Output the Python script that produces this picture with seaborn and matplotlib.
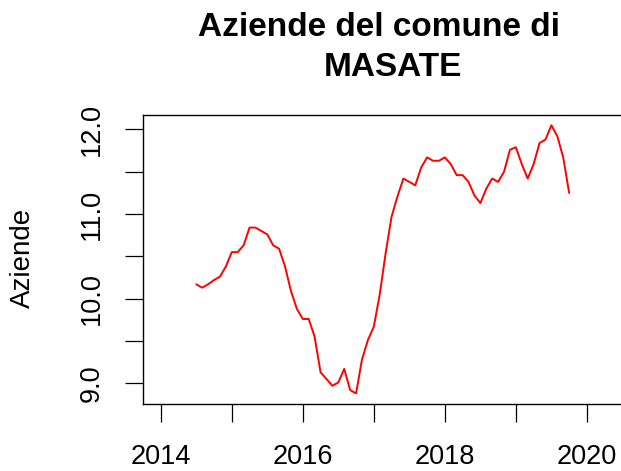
import numpy as np
import pandas as pd
import matplotlib
matplotlib.use("Agg")
import matplotlib.pyplot as plt
import seaborn as sns

# ---- data ----
title_line1 = "Aziende del comune di"
title_line2 = "MASATE"
y_label = "Aziende"
start_month = "2014-07"
aziende = [10.17, 10.13, 10.17, 10.22, 10.26, 10.38, 10.55, 10.55, 10.63, 10.84,
           10.84, 10.80, 10.76, 10.63, 10.59, 10.38, 10.09, 9.88, 9.76, 9.76,
           9.55, 9.13, 9.05, 8.97, 9.01, 9.17, 8.92, 8.88, 9.28, 9.51,
           9.67, 10.05, 10.54, 10.97, 11.21, 11.42, 11.38, 11.34, 11.55, 11.67,
           11.63, 11.63, 11.67, 11.59, 11.46, 11.46, 11.38, 11.22, 11.13, 11.30,
           11.42, 11.38, 11.50, 11.76, 11.79, 11.59, 11.42, 11.59, 11.84, 11.88,
           12.05, 11.92, 11.67, 11.25]
x_ticks = [2014, 2015, 2016, 2017, 2018, 2019, 2020]
x_tick_labels = ["2014", "", "2016", "", "2018", "", "2020"]
y_ticks = [9.0, 9.5, 10.0, 10.5, 11.0, 11.5, 12.0]
y_tick_labels = ["9.0", "", "10.0", "", "11.0", "", "12.0"]

dates = pd.period_range(start_month, periods=len(aziende), freq="M")
df = pd.DataFrame({
    "time": dates.year + (dates.month - 1) / 12.0,
    "Aziende": aziende,
})

sns.set_style("white")
plt.rcParams["font.family"] = ["Liberation Sans", "DejaVu Sans"]
plt.rcParams["text.color"] = "black"
plt.rcParams["axes.labelcolor"] = "black"

W, H = 621, 471
fig = plt.figure(figsize=(W / 100, H / 100), dpi=100)
left, right, top, bottom = 142.7, 642.3, 115.0, 404.0
ax = fig.add_axes([left / W, 1 - bottom / H, (right - left) / W, (bottom - top) / H])

sns.lineplot(data=df, x="time", y="Aziende", ax=ax, color="#ff0000",
             linewidth=1.4, estimator=None)

ax.set_xlim(2013.746, 2020.78)
ax.set_ylim(8.755, 12.171)
ax.set_xticks(x_ticks)
ax.set_xticklabels(x_tick_labels)
ax.set_yticks(y_ticks)
ax.set_yticklabels(y_tick_labels, rotation=90, va="center")
ax.set_xlabel("")
ax.set_ylabel(y_label, fontsize=20, color="black")
ax.yaxis.set_label_coords(23 / W, 1 - 257.5 / H, transform=fig.transFigure)
ax.yaxis.label.set_va("center")

ax.tick_params(axis="both", direction="out", length=13, width=0.9,
               color="black", labelsize=19.5, labelcolor="black",
               bottom=True, left=True, top=False, right=False)
ax.tick_params(axis="x", pad=16)
ax.tick_params(axis="y", pad=14)
for s in ax.spines.values():
    s.set_visible(True)
    s.set_color("black")
    s.set_linewidth(1.0)
ax.grid(False)

fig.text(379.2 / W, 1 - 36 / H, title_line1, ha="center", va="baseline",
         fontsize=24, fontweight="bold", color="black")
fig.text(392.5 / W, 1 - 76 / H, title_line2, ha="center", va="baseline",
         fontsize=24, fontweight="bold", color="black")

fig.savefig("out.png", dpi=100)
